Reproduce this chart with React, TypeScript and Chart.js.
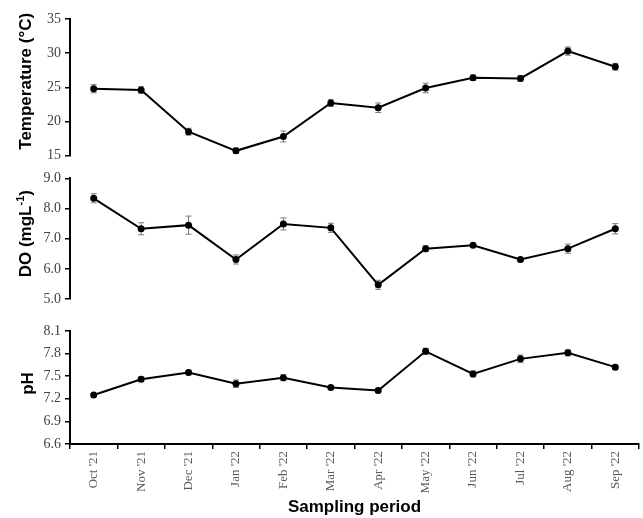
import React, { useEffect, useRef } from 'react';
import { Chart, registerables } from 'chart.js';

Chart.register(...registerables);

const months = ["Oct '21", "Nov '21", "Dec '21", "Jan '22", "Feb '22", "Mar '22", "Apr '22", "May '22", "Jun '22", "Jul '22", "Aug '22", "Sep '22"];

const temperature = [24.8, 24.6, 18.5, 15.7, 17.8, 22.7, 22.0, 24.9, 26.4, 26.3, 30.3, 28.0];
const temperatureErr = [0.6, 0.5, 0.5, 0.4, 0.8, 0.5, 0.7, 0.7, 0.4, 0.4, 0.6, 0.5];

const dissolvedOxygen = [8.34, 7.33, 7.45, 6.31, 7.49, 7.36, 5.47, 6.67, 6.78, 6.31, 6.67, 7.33];
const dissolvedOxygenErr = [0.15, 0.2, 0.3, 0.15, 0.2, 0.15, 0.15, 0.1, 0.07, 0.07, 0.15, 0.17];

const ph = [7.25, 7.46, 7.55, 7.40, 7.48, 7.35, 7.31, 7.83, 7.53, 7.73, 7.81, 7.62];
const phErr = [0.02, 0.03, 0.03, 0.05, 0.04, 0.02, 0.03, 0.04, 0.04, 0.05, 0.04, 0.03];

const tempTicks = { min: 15, max: 35, step: 5, decimals: 0 };
const doTicks = { min: 5, max: 9, step: 1, decimals: 1 };
const phTicks = { min: 6.6, max: 8.1, step: 0.3, decimals: 1 };

const xTitle = 'Sampling period';

const SANS = "'Liberation Sans', Arial, sans-serif";
const SERIF = "'Liberation Serif', 'Times New Roman', serif";

const errorBarPlugin = {
  id: 'errorBars',
  beforeDatasetsDraw(chart: any) {
    const ctx = chart.ctx;
    const yScale = chart.scales.y;
    chart.data.datasets.forEach((ds: any, di: number) => {
      const meta = chart.getDatasetMeta(di);
      if (!ds.errors) return;
      ctx.save();
      ctx.strokeStyle = '#7a7a7a';
      ctx.lineWidth = 1;
      meta.data.forEach((pt: any, i: number) => {
        const v = ds.data[i];
        const e = ds.errors[i];
        const x = pt.x;
        const yTop = yScale.getPixelForValue(v + e);
        const yBot = yScale.getPixelForValue(v - e);
        ctx.beginPath();
        ctx.moveTo(x, yTop);
        ctx.lineTo(x, yBot);
        ctx.moveTo(x - 3, yTop);
        ctx.lineTo(x + 3, yTop);
        ctx.moveTo(x - 3, yBot);
        ctx.lineTo(x + 3, yBot);
        ctx.stroke();
      });
      ctx.restore();
    });
  },
};

const yTitlePlugin = {
  id: 'yTitle',
  afterDraw(chart: any, _args: any, opts: any) {
    if (!opts || !opts.parts) return;
    const ctx = chart.ctx;
    const area = chart.chartArea;
    const size = 17;
    const supSize = 11;
    const parts = opts.parts as { text: string; sup?: boolean }[];
    ctx.save();
    let total = 0;
    const widths = parts.map((p) => {
      ctx.font = `bold ${p.sup ? supSize : size}px ${SANS}`;
      const w = ctx.measureText(p.text).width;
      total += w;
      return w;
    });
    const cy = (area.top + area.bottom) / 2 + (opts.dy || 0);
    ctx.translate(opts.x, cy);
    ctx.rotate(-Math.PI / 2);
    ctx.fillStyle = '#000';
    ctx.textBaseline = 'alphabetic';
    ctx.textAlign = 'left';
    let pos = -total / 2;
    parts.forEach((p, i) => {
      ctx.font = `bold ${p.sup ? supSize : size}px ${SANS}`;
      ctx.fillText(p.text, pos, p.sup ? -7 : 0);
      pos += widths[i];
    });
    ctx.restore();
  },
};

type PanelProps = {
  top: number;
  height: number;
  values: number[];
  errors: number[];
  range: { min: number; max: number; step: number; decimals: number };
  titleParts: { text: string; sup?: boolean }[];
  titleX: number;
  titleDy: number;
  padTop: number;
  padBottom: number;
  showX: boolean;
};

function Panel(props: PanelProps) {
  const ref = useRef<HTMLCanvasElement | null>(null);
  useEffect(() => {
    if (!ref.current) return;
    const { values, errors, range, titleParts, titleX, titleDy, padTop, padBottom, showX } = props;
    const chart = new Chart(ref.current, {
      type: 'line',
      data: {
        labels: months,
        datasets: [
          {
            data: values,
            errors: errors,
            borderColor: '#000',
            backgroundColor: '#000',
            borderWidth: 2,
            pointRadius: 3.5,
            pointBackgroundColor: '#000',
            pointBorderColor: '#000',
            pointBorderWidth: 0,
            tension: 0,
          } as any,
        ],
      },
      options: {
        animation: false,
        responsive: false,
        devicePixelRatio: 1,
        layout: { padding: { top: padTop, bottom: padBottom, left: 0, right: 3 } },
        plugins: {
          legend: { display: false },
          tooltip: { enabled: false },
          yTitle: { parts: titleParts, x: titleX, dy: titleDy },
        } as any,
        scales: {
          x: {
            type: 'category',
            display: showX,
            offset: true,
            grid: {
              offset: true,
              drawOnChartArea: false,
              drawTicks: true,
              tickLength: 5,
              color: '#000',
              lineWidth: 1.5,
            },
            border: { display: true, color: '#000', width: 2 },
            ticks: {
              autoSkip: false,
              maxRotation: 90,
              minRotation: 90,
              padding: 2,
              color: '#595959',
              font: { family: SERIF, size: 13 },
            },
            title: {
              display: true,
              text: xTitle,
              color: '#000',
              font: { family: SANS, size: 17, weight: 'bold' },
              padding: { top: 0, bottom: 0 },
            },
            afterFit: (s: any) => {
              if (showX) s.height = 74;
            },
          } as any,
          y: {
            min: range.min,
            max: range.max,
            grid: {
              drawOnChartArea: false,
              drawTicks: true,
              tickLength: 5,
              color: '#000',
              lineWidth: 1.5,
            },
            border: { display: true, color: '#000', width: 2 },
            ticks: {
              stepSize: range.step,
              padding: 4,
              color: '#404040',
              font: { family: SERIF, size: 14 },
              callback: (v: any) => Number(v).toFixed(range.decimals),
            },
            afterFit: (s: any) => {
              s.width = 70;
            },
          } as any,
        },
      },
      plugins: [errorBarPlugin, yTitlePlugin],
    });
    return () => chart.destroy();
  }, []);
  return (
    <div style={{ position: 'absolute', left: 0, top: props.top, width: 643, height: props.height }}>
      <canvas ref={ref} width={643} height={props.height} style={{ display: 'block' }} />
    </div>
  );
}

export default function App() {
  return (
    <div style={{ position: 'absolute', left: 0, top: 0, width: 643, height: 518, background: '#fff', overflow: 'hidden' }}>
      <Panel
        top={0}
        height={168}
        values={temperature}
        errors={temperatureErr}
        range={tempTicks}
        titleParts={[{ text: 'Temperature (°C)' }]}
        titleX={31}
        titleDy={-6}
        padTop={19}
        padBottom={12}
        showX={false}
      />
      <Panel
        top={166}
        height={146}
        values={dissolvedOxygen}
        errors={dissolvedOxygenErr}
        range={doTicks}
        titleParts={[{ text: 'DO (mgL' }, { text: '-1', sup: true }, { text: ')' }]}
        titleX={31}
        titleDy={-5}
        padTop={8}
        padBottom={13}
        showX={false}
      />
      <Panel
        top={314}
        height={204}
        values={ph}
        errors={phErr}
        range={phTicks}
        titleParts={[{ text: 'pH' }]}
        titleX={33}
        titleDy={-4}
        padTop={17}
        padBottom={0}
        showX={true}
      />
    </div>
  );
}
